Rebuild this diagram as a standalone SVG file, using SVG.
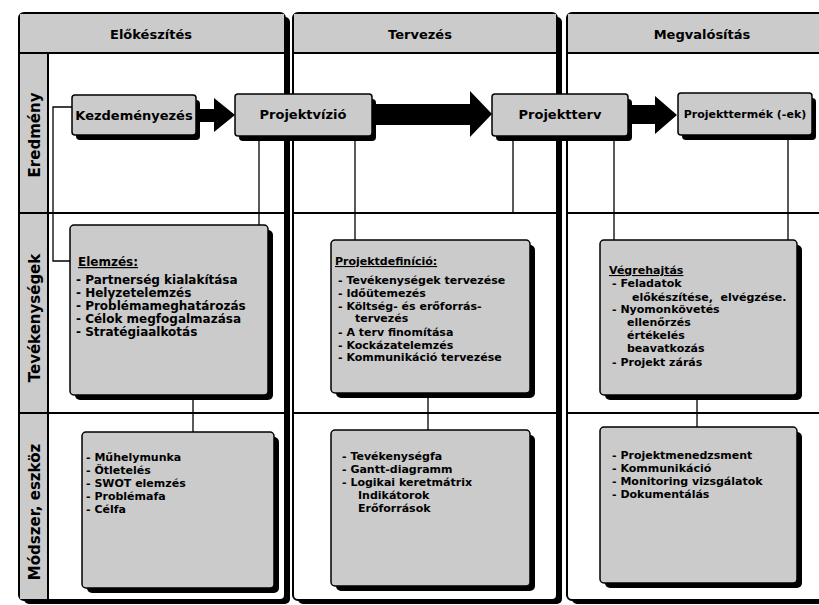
<svg xmlns="http://www.w3.org/2000/svg" width="819" height="605" viewBox="0 0 819 605">
  <style>
    .frame { fill: #ffffff; stroke: #000000; stroke-width: 2; }
    .shade { fill: #000000; }
    .band { fill: #cbcbcb; }
    .rule { stroke: #000000; stroke-width: 2; fill: none; }
    .box { fill: #cbcbcb; stroke: #000000; stroke-width: 1.5; }
    .wire { stroke: #000000; stroke-width: 1.3; fill: none; }
    .arrow { fill: #000000; }
    text { font-family: "DejaVu Sans", "Liberation Sans", sans-serif; font-weight: bold; fill: #000000; }
    .head { font-size: 13px; text-anchor: middle; }
    .lane { font-size: 15px; text-anchor: middle; }
    .title { font-size: 13px; text-anchor: middle; }
    .title.small { font-size: 11px; }
    .big { font-size: 12px; }
    .item { font-size: 11px; }
    .ul { text-decoration: underline; }
  </style>

  <!-- phase columns -->
  <g id="col-elokeszites">
    <rect class="shade" x="24" y="17" width="266" height="587" rx="5"/>
    <rect class="frame" x="19" y="13" width="266" height="587" rx="5"/>
    <rect class="band" x="20" y="14" width="264" height="39"/>
    <line class="rule" x1="19" y1="53" x2="285" y2="53"/>
    <rect class="band" x="20" y="54" width="28" height="545"/>
    <line class="rule" x1="48" y1="53" x2="48" y2="600"/>
    <line class="rule" x1="19" y1="213" x2="285" y2="213"/>
    <line class="rule" x1="19" y1="413" x2="285" y2="413"/>
    <text class="head" x="151" y="39">Előkészítés</text>
    <text class="lane" transform="translate(40,135) rotate(-90)">Eredmény</text>
    <text class="lane" transform="translate(40,318) rotate(-90)">Tevékenységek</text>
    <text class="lane" transform="translate(40,512) rotate(-90)">Módszer, eszköz</text>
  </g>

  <g id="col-tervezes">
    <rect class="shade" x="298" y="17" width="264" height="587" rx="5"/>
    <rect class="frame" x="293" y="13" width="264" height="587" rx="5"/>
    <rect class="band" x="294" y="14" width="262" height="39"/>
    <line class="rule" x1="293" y1="53" x2="557" y2="53"/>
    <line class="rule" x1="293" y1="213" x2="557" y2="213"/>
    <line class="rule" x1="293" y1="413" x2="557" y2="413"/>
    <text class="head" x="420" y="39">Tervezés</text>
  </g>

  <g id="col-megvalositas">
    <rect class="shade" x="572" y="17" width="262" height="587" rx="5"/>
    <rect class="frame" x="567" y="13" width="262" height="587" rx="5"/>
    <rect class="band" x="568" y="14" width="260" height="39"/>
    <line class="rule" x1="567" y1="53" x2="829" y2="53"/>
    <line class="rule" x1="567" y1="213" x2="829" y2="213"/>
    <line class="rule" x1="567" y1="413" x2="829" y2="413"/>
    <text class="head" x="702" y="39">Megvalósítás</text>
  </g>

  <!-- connectors -->
  <g id="connectors">
    <path class="wire" d="M72 107 H53 V261 H70"/>
    <path class="wire" d="M259 141 V225"/>
    <path class="wire" d="M355 141 V240"/>
    <path class="wire" d="M513 141 V213"/>
    <path class="wire" d="M614 141 V240"/>
    <path class="wire" d="M788 140 V240"/>
    <path class="wire" d="M193 400 V432"/>
    <path class="wire" d="M428 398 V430"/>
    <path class="wire" d="M697 400 V427"/>
    <polygon class="arrow" points="198,109 214,109 214,98 235,115 214,132 214,122 198,122"/>
    <polygon class="arrow" points="375,104 470,104 470,91 492,114 470,137 470,125 375,125"/>
    <polygon class="arrow" points="631,105 655,105 655,96 677,115 655,134 655,124 631,124"/>
  </g>

  <!-- result nodes -->
  <g id="kezdemenyezes">
    <rect class="shade" x="76" y="100" width="124" height="40" rx="4"/>
    <rect class="box" x="72" y="95" width="124" height="40" rx="3"/>
    <text class="title" x="134" y="120">Kezdeményezés</text>
  </g>
  <g id="projektvizio">
    <rect class="shade" x="239" y="99" width="137" height="42" rx="4"/>
    <rect class="box" x="235" y="94" width="137" height="42" rx="3"/>
    <text class="title" x="303" y="119">Projektvízió</text>
  </g>
  <g id="projektterv">
    <rect class="shade" x="496" y="99" width="136" height="42" rx="4"/>
    <rect class="box" x="492" y="94" width="136" height="42" rx="3"/>
    <text class="title" x="560" y="119">Projektterv</text>
  </g>
  <g id="projekttermek">
    <rect class="shade" x="682" y="98" width="134" height="42" rx="4"/>
    <rect class="box" x="678" y="93" width="134" height="42" rx="3"/>
    <text class="title small" x="745" y="118">Projekttermék (-ek)</text>
  </g>

  <!-- activity nodes -->
  <g id="elemzes">
    <rect class="shade" x="75" y="230" width="198" height="170" rx="5"/>
    <rect class="box" x="70" y="225" width="198" height="170" rx="4"/>
    <text class="big ul" x="78" y="266">Elemzés:</text>
    <text class="big" x="76" y="284">- Partnerség kialakítása</text>
    <text class="big" x="76" y="297">- Helyzetelemzés</text>
    <text class="big" x="76" y="310">- Problémameghatározás</text>
    <text class="big" x="76" y="323">- Célok megfogalmazása</text>
    <text class="big" x="76" y="336">- Stratégiaalkotás</text>
  </g>
  <g id="projektdefinicio">
    <rect class="shade" x="336" y="245" width="199" height="153" rx="5"/>
    <rect class="box" x="331" y="240" width="199" height="153" rx="4"/>
    <text class="item ul" x="335" y="265">Projektdefiníció:</text>
    <text class="item" x="338" y="284">- Tevékenységek tervezése</text>
    <text class="item" x="338" y="297">- Időütemezés</text>
    <text class="item" x="338" y="310">- Költség- és erőforrás-</text>
    <text class="item" x="355" y="322">tervezés</text>
    <text class="item" x="338" y="336">- A terv finomítása</text>
    <text class="item" x="338" y="349">- Kockázatelemzés</text>
    <text class="item" x="338" y="361">- Kommunikáció tervezése</text>
  </g>
  <g id="vegrehajtas">
    <rect class="shade" x="605" y="245" width="197" height="155" rx="5"/>
    <rect class="box" x="600" y="240" width="197" height="155" rx="4"/>
    <text class="item ul" x="609" y="274">Végrehajtás</text>
    <text class="item" x="612" y="287">- Feladatok</text>
    <text class="item" x="632" y="301" xml:space="preserve">előkészítése,  elvégzése.</text>
    <text class="item" x="612" y="313">- Nyomonkövetés</text>
    <text class="item" x="627" y="326">ellenőrzés</text>
    <text class="item" x="627" y="339">értékelés</text>
    <text class="item" x="627" y="352">beavatkozás</text>
    <text class="item" x="612" y="366">- Projekt zárás</text>
  </g>

  <!-- method nodes -->
  <g id="modszer-elokeszites">
    <rect class="shade" x="87" y="437" width="192" height="156" rx="5"/>
    <rect class="box" x="82" y="432" width="192" height="156" rx="4"/>
    <text class="item" x="86" y="461">- Műhelymunka</text>
    <text class="item" x="86" y="474">- Ötletelés</text>
    <text class="item" x="86" y="487">- SWOT elemzés</text>
    <text class="item" x="86" y="500">- Problémafa</text>
    <text class="item" x="86" y="513">- Célfa</text>
  </g>
  <g id="modszer-tervezes">
    <rect class="shade" x="336" y="435" width="199" height="156" rx="5"/>
    <rect class="box" x="331" y="430" width="199" height="156" rx="4"/>
    <text class="item" x="342" y="460">- Tevékenységfa</text>
    <text class="item" x="342" y="473">- Gantt-diagramm</text>
    <text class="item" x="342" y="486">- Logikai keretmátrix</text>
    <text class="item" x="358" y="499">Indikátorok</text>
    <text class="item" x="358" y="512">Erőforrások</text>
  </g>
  <g id="modszer-megvalositas">
    <rect class="shade" x="605" y="432" width="197" height="156" rx="5"/>
    <rect class="box" x="600" y="427" width="197" height="156" rx="4"/>
    <text class="item" x="612" y="459">- Projektmenedzsment</text>
    <text class="item" x="612" y="472">- Kommunikáció</text>
    <text class="item" x="612" y="485">- Monitoring vizsgálatok</text>
    <text class="item" x="612" y="498">- Dokumentálás</text>
  </g>
</svg>
